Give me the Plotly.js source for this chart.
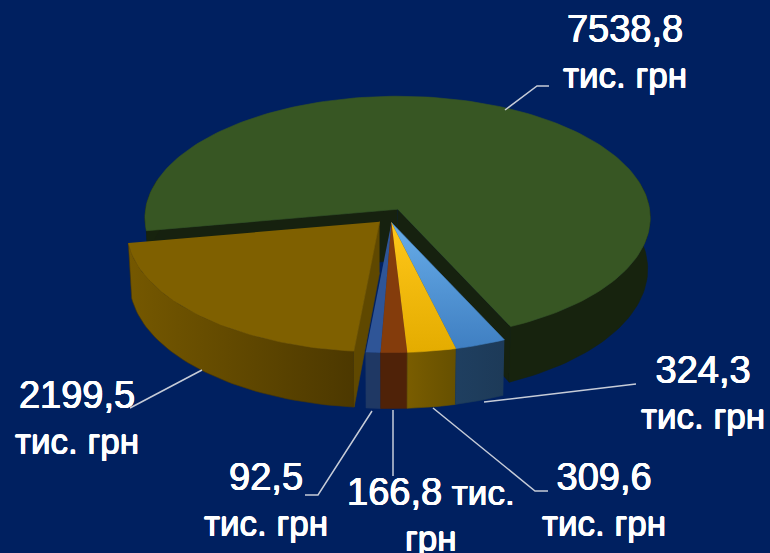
<!DOCTYPE html>
<html>
<head>
<meta charset="utf-8">
<script src="https://cdn.plot.ly/plotly-3.0.1.min.js"></script>
<style>html,body{margin:0;padding:0;background:#002060}#chart{width:770px;height:553px}</style>
</head>
<body>
<div id="chart"></div>
<script>
// Data, clockwise from the front-right edge of the green slice
const values = [324.3, 309.6, 166.8, 92.5, 2199.5, 7538.8];
const valueText = ['324,3', '309,6', '166,8', '92,5', '2199,5', '7538,8'];
const unitText = ['<br>тис. грн', '<br>тис. грн', ' тис.<br>грн', '<br>тис. грн', '<br>тис. грн', '<br>тис. грн'];

// Styles
const topStops = [
  ['#3f7fc2', '#68ade9'], ['#e4ac00', '#ffc71a'], ['#843c0c', '#843c0c'],
  ['#2f5597', '#2f5597'], ['#7f6000', '#7f6000'], ['#375623', '#375623']
];
const sideStops = [
  ['#1f3f60', '#1d3a58'], ['#7a5d00', '#665000'], ['#4f2208', '#4f2208'],
  ['#1f3864', '#1f3864'], ['#755800', '#4c3800'], ['#17230e', '#17230e']
];
const wallColor = ['#16210f', '#16210f', '#4f2208', '#1f3864', '#5f4800', '#16210f'];
const explodeAt = [178, 178, 178, 178, 223, 28];   // direction each slice is pulled
const explodeBy = [1, 1, 1, 1, 1.2, 1];
const wallSides = [[], [], [], [], [0], [0, 1]];

// Projection
const center = [391, 215.5], rx = 252, ry = 121, persp = 0.07, startDeg = 155.2;
const explodeX = 14, explodeY = 7;
const rad = d => d * Math.PI / 180;
const total = values.reduce((a, b) => a + b, 0);

function project(t, i, r, low) {
  const u = r * Math.sin(rad(t)), v = -r * Math.cos(rad(t));
  const q = 1 - persp * v;
  const ax = center[0] + explodeX * explodeBy[i] * Math.sin(rad(explodeAt[i]));
  const ay = center[1] - explodeY * explodeBy[i] * Math.cos(rad(explodeAt[i]));
  const dx = rx * u / q, dy = ry * v / q;
  return low ? [ax + dx * 0.99, ay + dy + 51 + 5 * v] : [ax + dx, ay + dy];
}
function arc(t1, t2, i, low) {
  const pts = [], n = Math.max(2, Math.ceil((t2 - t1) / 1.5));
  for (let k = 0; k <= n; k++) pts.push(project(t1 + (t2 - t1) * k / n, i, 1, low));
  return pts;
}
function poly(pts, stops, name) {
  const tr = {
    type: 'scatter', mode: 'lines', fill: 'toself', hoverinfo: 'skip', showlegend: false, name: name,
    x: pts.map(p => p[0]), y: pts.map(p => p[1]),
    line: { width: 0.6, color: stops.line }
  };
  if (stops.a === stops.b) tr.fillcolor = stops.a;
  else tr.fillgradient = { type: stops.dir, colorscale: [[0, stops.a], [1, stops.b]] };
  return tr;
}

const traces = [];
const spans = [];
let cursor = startDeg;
values.forEach(v => { spans.push([cursor, cursor + v / total * 360]); cursor = spans[spans.length - 1][1]; });

[5, 4, 3, 2, 1, 0].forEach(i => {
  const [t1, t2] = spans[i];
  // cut faces
  wallSides[i].forEach(side => {
    const t = side === 0 ? t1 : t2;
    const pts = [project(0, i, 0, false), project(t, i, 1, false), project(t, i, 1, true), project(0, i, 0, true)];
    traces.push(poly(pts, { a: wallColor[i], b: wallColor[i], line: wallColor[i] }, 'wall'));
  });
  // outer rim, only the part facing the viewer
  [0, 360].forEach(shift => {
    const a = Math.max(t1, 75 + shift), b = Math.min(t2, 285 + shift);
    if (b <= a) return;
    const pts = arc(a, b, i, false).concat(arc(a, b, i, true).reverse());
    const [s1, s2] = sideStops[i];
    traces.push(poly(pts, { a: s1, b: s2, dir: 'horizontal', line: s2 }, 'rim'));
  });
  // top face
  const top = [project(0, i, 0, false)].concat(arc(t1, t2, i, false));
  const [c1, c2] = topStops[i];
  traces.push(poly(top, { a: c1, b: c2, dir: 'vertical', line: c1 }, 'top'));
});

// Leader lines: one bent line per label
const leaderX = [[484, 620, 636], [433, 535, 548], [393, 393], [372, 318, 305], [202, 130], [505, 537, 549]];
const leaderY = [[402, 386, 384], [408, 491, 491], [410, 476], [411, 495, 495], [370, 408], [110, 86, 86]];
leaderX.forEach((lx, i) => traces.push({
  type: 'scatter', mode: 'lines', x: lx, y: leaderY[i], hoverinfo: 'skip', showlegend: false,
  line: { color: '#c6ccd8', width: 1.5 }
}));

// Labels
const labelX = [703, 604, 431, 266, 77, 625];
const labelY = [392, 499, 514, 499, 417, 51];
const annotations = valueText.map((val, i) => ({
  text: '<span style="font-size:38px">' + val + '</span>' + unitText[i],
  x: labelX[i], y: labelY[i], xref: 'x', yref: 'y', showarrow: false,
  xanchor: 'center', yanchor: 'middle', align: 'center',
  font: { family: '"Liberation Sans", Arial, sans-serif', size: 35, color: '#ffffff', weight: 400,
          shadow: '0.5px 0 0 #ffffff, -0.5px 0 0 #ffffff, 0 0.4px 0 #ffffff, 0 -0.4px 0 #ffffff' }
}));

Plotly.newPlot('chart', traces, {
  width: 770, height: 553, margin: { l: 0, r: 0, t: 0, b: 0 },
  paper_bgcolor: '#002060', plot_bgcolor: '#002060', showlegend: false,
  xaxis: { range: [0, 770], visible: false, fixedrange: true },
  yaxis: { range: [553, 0], visible: false, fixedrange: true },
  annotations
}, { displayModeBar: false, staticPlot: true });
</script>
</body>
</html>
